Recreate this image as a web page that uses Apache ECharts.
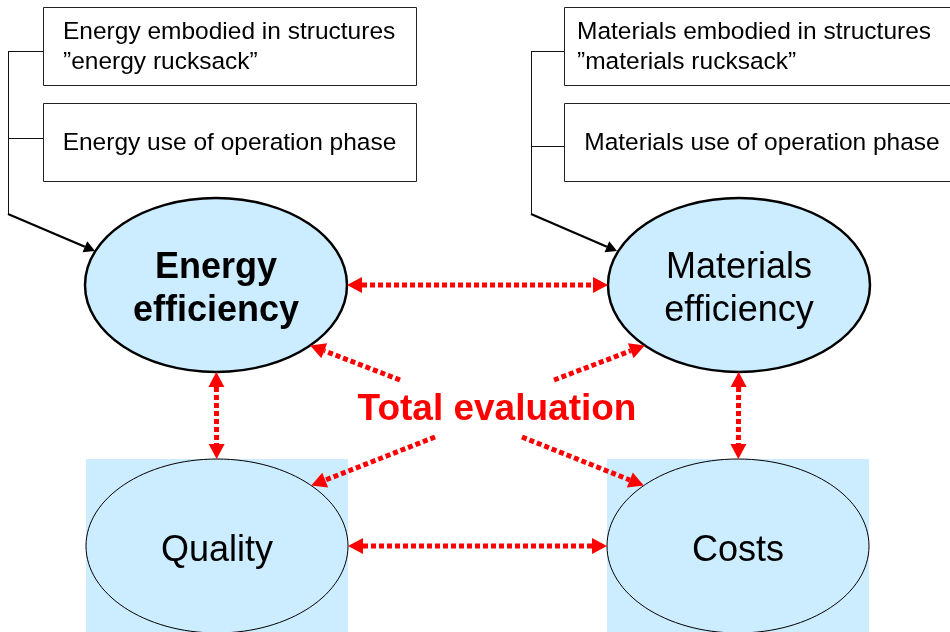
<!DOCTYPE html>
<html><head><meta charset="utf-8">
<script src="https://cdn.jsdelivr.net/npm/echarts@6/dist/echarts.min.js"></script>
<style>html,body{margin:0;padding:0;background:#fff}#c{width:950px;height:632px}</style>
</head><body><div id="c"></div>
<script>
// ---------- DATA ----------
const sourceBoxes = [
  'Energy embodied in structures\n\u201Denergy rucksack\u201D',
  'Energy use of operation phase',
  'Materials embodied in structures\n\u201Dmaterials rucksack\u201D',
  'Materials use of operation phase'
];
const feedGroups = [[0, 1], [2, 3]];      // boxes feeding into node
const feedTargets = [0, 1];               // node index for each feed group
const nodeNames = ['Energy\nefficiency', 'Materials\nefficiency', 'Quality', 'Costs'];
const hubName = 'Total evaluation';
const pairLinks = [[0, 1], [0, 2], [1, 3], [2, 3]];   // two-way relations
const hubLinks = [0, 1, 2, 3];                         // Total evaluation -> node

// ---------- LAYOUT (positions / sizes / styles) ----------
const W = 950, H = 632;
const boxLayout = [
  {x0: 43, y0: 7, x1: 416, y1: 85, tx: 63, align: 'left'},
  {x0: 43, y0: 103, x1: 416, y1: 181, tx: 229.5, align: 'center'},
  {x0: 564, y0: 7, x1: 962, y1: 85, tx: 577, align: 'left'},
  {x0: 564, y0: 103, x1: 962, y1: 181, tx: 762, align: 'center'}
];
const feedLayout = [
  {busX: 8, hookY: [51, 138], elbowY: 214, tip: [95, 251]},
  {busX: 531, hookY: [51, 146], elbowY: 214, tip: [617, 251]}
];
const nodeLayout = [
  {cx: 216, cy: 285, rx: 131, ry: 87, stroke: 2.5, bold: true, panel: false},
  {cx: 739, cy: 285, rx: 131, ry: 87, stroke: 2.5, bold: false, panel: false},
  {cx: 217, cy: 546, rx: 131, ry: 87, stroke: 1, bold: false, panel: true},
  {cx: 738, cy: 546, rx: 131, ry: 87, stroke: 1, bold: false, panel: true}
];
const hubLayout = {x: 497, y: 410};
const hubTails = [[400, 380], [554, 380], [435, 437], [522, 437]];
const hubTipAngles = [44, 136, -44, -136];   // degrees on target ellipse
const FILL = '#CCECFF', RED = '#FF0000';
const FONT = 'Liberation Sans, Arial, Helvetica, sans-serif';

// ---------- HELPERS ----------
function arrow(p0, p1, head0, head1, o) {
  const dx = p1[0] - p0[0], dy = p1[1] - p0[1], L = Math.hypot(dx, dy);
  const ux = dx / L, uy = dy / L;
  const a = head0 ? [p0[0] + ux * o.hl, p0[1] + uy * o.hl] : p0;
  const b = head1 ? [p1[0] - ux * o.hl, p1[1] - uy * o.hl] : p1;
  const out = [{type: 'line', shape: {x1: a[0], y1: a[1], x2: b[0], y2: b[1]},
    style: {stroke: o.color, lineWidth: o.lw, lineDash: o.dash || null, lineCap: 'butt', fill: null}}];
  const head = (tip, base) => ({type: 'polygon',
    shape: {points: [tip, [base[0] - uy * o.hw, base[1] + ux * o.hw], [base[0] + uy * o.hw, base[1] - ux * o.hw]]},
    style: {fill: o.color}});
  if (head0) out.push(head(p0, a));
  if (head1) out.push(head(p1, b));
  return out;
}
function edgePoint(n, toward) {
  // intersection of ellipse n with the ray from its center toward a point
  const dx = toward[0] - n.cx, dy = toward[1] - n.cy;
  const t = 1 / Math.sqrt((dx * dx) / (n.rx * n.rx) + (dy * dy) / (n.ry * n.ry));
  return [n.cx + dx * t, n.cy + dy * t];
}
const idx = arr => arr.map((_, i) => [i, 0]);

// ---------- CHART ----------
const chart = echarts.init(document.getElementById('c'));
chart.setOption({
  animation: false,
  grid: {left: 0, right: 0, top: 0, bottom: 0},
  xAxis: {type: 'value', min: 0, max: W, show: false},
  yAxis: {type: 'value', min: 0, max: H, inverse: true, show: false},
  series: [
    { // panels behind the lower nodes
      type: 'custom', z: 1, clip: false, data: idx(nodeNames),
      renderItem: (p, api) => {
        const n = nodeLayout[p.dataIndex];
        if (!n.panel) return null;
        const a = api.coord([n.cx - n.rx, n.cy - n.ry]), b = api.coord([n.cx + n.rx, H]);
        return {type: 'rect', shape: {x: a[0], y: a[1], width: b[0] - a[0], height: b[1] - a[1]}, style: {fill: FILL}};
      }
    },
    { // source boxes
      type: 'custom', z: 2, clip: false, data: idx(sourceBoxes),
      renderItem: (p, api) => {
        const b = boxLayout[p.dataIndex];
        const a = api.coord([b.x0, b.y0]), c = api.coord([b.x1, b.y1]), t = api.coord([b.tx, (b.y0 + b.y1) / 2 + 1]);
        return {type: 'group', children: [
          {type: 'rect', shape: {x: a[0] + 0.5, y: a[1] + 0.5, width: c[0] - a[0], height: c[1] - a[1]},
            style: {fill: '#fff', stroke: '#222', lineWidth: 1}},
          {type: 'text', style: {text: sourceBoxes[p.dataIndex], x: t[0], y: t[1], align: b.align,
            verticalAlign: 'middle', fill: '#000', fontSize: 24.5, fontFamily: FONT, lineHeight: 30}}
        ]};
      }
    },
    { // feed connectors (black)
      type: 'custom', z: 3, clip: false, data: idx(feedGroups),
      renderItem: (p, api) => {
        const f = feedLayout[p.dataIndex];
        const grp = feedGroups[p.dataIndex];
        const ch = [];
        grp.forEach((bi, k) => {
          const s = api.coord([f.busX, f.hookY[k]]), e = api.coord([boxLayout[bi].x0, f.hookY[k]]);
          ch.push({type: 'line', shape: {x1: s[0], y1: s[1] + 0.5, x2: e[0], y2: e[1] + 0.5}, style: {stroke: '#111', lineWidth: 1}});
        });
        const top = api.coord([f.busX, f.hookY[0]]), bot = api.coord([f.busX, f.elbowY]);
        ch.push({type: 'line', shape: {x1: top[0] + 0.5, y1: top[1], x2: bot[0] + 0.5, y2: bot[1]}, style: {stroke: '#111', lineWidth: 1}});
        ch.push(...arrow(bot, api.coord(f.tip), false, true, {color: '#000', lw: 2.2, hl: 11, hw: 6}));
        return {type: 'group', children: ch};
      }
    },
    { // nodes
      type: 'custom', z: 4, clip: false, data: idx(nodeNames),
      renderItem: (p, api) => {
        const n = nodeLayout[p.dataIndex];
        const c = api.coord([n.cx, n.cy]), s = api.size([n.rx, n.ry]);
        return {type: 'group', children: [
          {type: 'ellipse', shape: {cx: c[0], cy: c[1], rx: s[0], ry: s[1]},
            style: {fill: FILL, stroke: '#000', lineWidth: n.stroke}},
          {type: 'text', style: {text: nodeNames[p.dataIndex], x: c[0], y: c[1] + 5, align: 'center',
            verticalAlign: 'middle', fill: '#000', fontSize: 36, fontWeight: n.bold ? 'bold' : 'normal',
            fontFamily: FONT, lineHeight: 43}}
        ]};
      }
    },
    { // two-way red relations
      type: 'custom', z: 5, clip: false, data: idx(pairLinks),
      renderItem: (p, api) => {
        const [i, j] = pairLinks[p.dataIndex];
        const A = nodeLayout[i], B = nodeLayout[j];
        const p0 = api.coord(edgePoint(A, [B.cx, B.cy])), p1 = api.coord(edgePoint(B, [A.cx, A.cy]));
        return {type: 'group', children: arrow(p0, p1, true, true, {color: RED, lw: 5, dash: [5, 3], hl: 15, hw: 8})};
      }
    },
    { // hub text
      type: 'custom', z: 6, clip: false, data: [[0, 0]],
      renderItem: (p, api) => {
        const c = api.coord([hubLayout.x, hubLayout.y]);
        return {type: 'text', style: {text: hubName, x: c[0], y: c[1], align: 'center', verticalAlign: 'middle',
          fill: RED, fontSize: 37, fontWeight: 'bold', fontFamily: FONT}};
      }
    },
    { // hub links
      type: 'custom', z: 6, clip: false, data: idx(hubLinks),
      renderItem: (p, api) => {
        const n = nodeLayout[hubLinks[p.dataIndex]];
        const ang = hubTipAngles[p.dataIndex] * Math.PI / 180;
        const tip = [n.cx + n.rx * Math.cos(ang), n.cy + n.ry * Math.sin(ang)];
        const p0 = api.coord(hubTails[p.dataIndex]), p1 = api.coord(tip);
        return {type: 'group', children: arrow(p0, p1, false, true, {color: RED, lw: 5, dash: [5, 3], hl: 15, hw: 8})};
      }
    }
  ]
});
</script>
</body></html>
